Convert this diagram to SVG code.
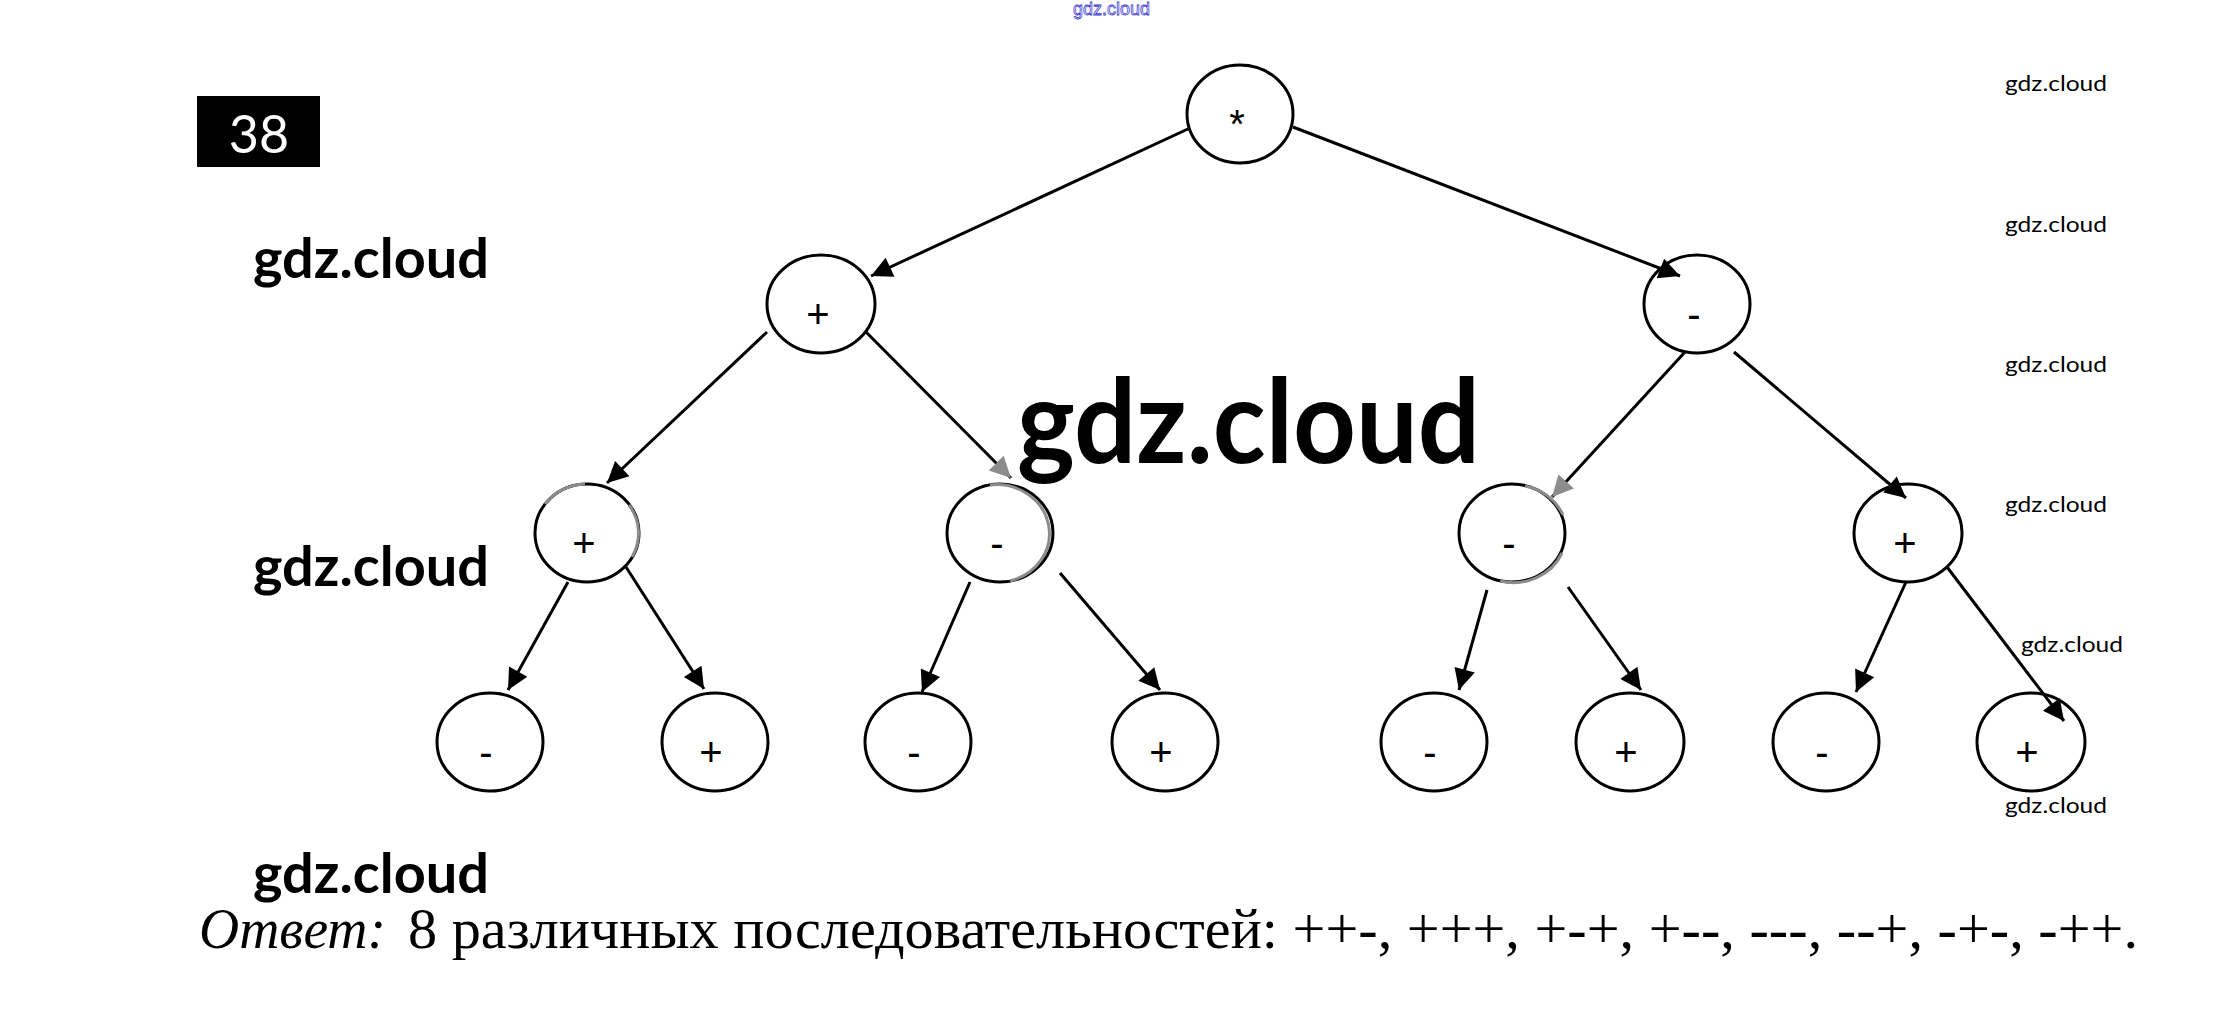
<svg xmlns="http://www.w3.org/2000/svg" width="2222" height="1031" viewBox="0 0 2222 1031">
<style>
.n{fill:#fff;stroke:#000;stroke-width:3}
.lb{font-family:"Liberation Sans",Arial,sans-serif;font-size:40px;fill:#000;text-anchor:middle}
.e{stroke:#000;stroke-width:3;fill:none;marker-end:url(#ah)}
.eg{stroke:#000;stroke-width:3;fill:none;marker-end:url(#ahg)}
.wm{font-family:Lato,"Liberation Sans",sans-serif;fill:#000}
.g{fill:none;stroke:#8c8c8c;stroke-width:3}
</style>
<defs>
<marker id="ah" viewBox="0 0 10 10" refX="10" refY="5" markerUnits="userSpaceOnUse" markerWidth="30" markerHeight="21" orient="auto"><path d="M0,0 L10,5 L0,10 z" fill="#000"/></marker>
<marker id="ahg" viewBox="0 0 10 10" refX="10" refY="5" markerUnits="userSpaceOnUse" markerWidth="30" markerHeight="21" orient="auto"><path d="M0,0 L10,5 L0,10 z" fill="#8c8c8c"/></marker>
</defs>
<rect width="2222" height="1031" fill="#fff"/>

<text x="1073" y="15" font-family="'Liberation Sans',sans-serif" font-size="19" textLength="77" lengthAdjust="spacingAndGlyphs" fill="#fff" stroke="#3b3bd0" stroke-width="0.8">gdz.cloud</text>

<g id="badge">
<rect x="197" y="96" width="123" height="71" fill="#000"/>
<text x="259" y="153" text-anchor="middle" font-family="Lato,'Liberation Sans',sans-serif" font-size="52" fill="#fff">38</text>
</g>

<g id="n-root"><ellipse class="n" cx="1240" cy="114" rx="53" ry="49"/><text class="lb" x="1237" y="138">*</text></g>
<g id="n-L"><ellipse class="n" cx="821" cy="304" rx="54" ry="49"/><text class="lb" x="818" y="328">+</text></g>
<g id="n-R"><ellipse class="n" cx="1697" cy="304" rx="53" ry="49"/><text class="lb" x="1694" y="328">-</text></g>
<g id="n-LL"><ellipse class="n" cx="587" cy="533" rx="52" ry="49"/><path class="g" d="M545,504 A52,49 0 0 1 585,484"/><path class="g" d="M629,505 A52,49 0 0 1 632,557"/><text class="lb" x="584" y="557">+</text></g>
<g id="n-LR"><ellipse class="n" cx="1000" cy="533" rx="53" ry="49"/><path class="g" d="M990,485 A53,49 0 0 1 1010,581"/><text class="lb" x="997" y="557">-</text></g>
<g id="n-RL"><ellipse class="n" cx="1512" cy="533" rx="53" ry="49"/><path class="g" d="M1525,486 A53,49 0 0 1 1563,515"/><path class="g" d="M1562,553 A53,49 0 0 1 1500,581"/><text class="lb" x="1509" y="557">-</text></g>
<g id="n-RR"><ellipse class="n" cx="1908" cy="533" rx="54" ry="49"/><text class="lb" x="1905" y="557">+</text></g>
<g id="n-LLL"><ellipse class="n" cx="490" cy="742" rx="53" ry="49"/><text class="lb" x="486" y="766">-</text></g>
<g id="n-LLR"><ellipse class="n" cx="715" cy="742" rx="53" ry="49"/><text class="lb" x="711" y="766">+</text></g>
<g id="n-LRL"><ellipse class="n" cx="918" cy="742" rx="53" ry="49"/><text class="lb" x="914" y="766">-</text></g>
<g id="n-LRR"><ellipse class="n" cx="1165" cy="742" rx="53" ry="49"/><text class="lb" x="1161" y="766">+</text></g>
<g id="n-RLL"><ellipse class="n" cx="1434" cy="742" rx="53" ry="49"/><text class="lb" x="1430" y="766">-</text></g>
<g id="n-RLR"><ellipse class="n" cx="1630" cy="742" rx="54" ry="49"/><text class="lb" x="1626" y="766">+</text></g>
<g id="n-RRL"><ellipse class="n" cx="1826" cy="742" rx="53" ry="49"/><text class="lb" x="1822" y="766">-</text></g>
<g id="n-RRR"><ellipse class="n" cx="2031" cy="742" rx="54" ry="49"/><text class="lb" x="2027" y="766">+</text></g>

<g id="connectors">
<line class="e" x1="1190" y1="128" x2="871" y2="276"/>
<line class="e" x1="1293" y1="127" x2="1680" y2="276" stroke-width="3.6"/>
<line class="e" x1="767" y1="332" x2="607" y2="483"/>
<line class="eg" x1="866" y1="332" x2="1011" y2="478"/>
<line class="e" x1="568" y1="582" x2="508" y2="690"/>
<line class="e" x1="626" y1="567" x2="704" y2="689"/>
<line class="e" x1="970" y1="582" x2="922" y2="692"/>
<line class="e" x1="1060" y1="573" x2="1160" y2="690"/>
<line class="eg" x1="1685" y1="352" x2="1552" y2="497"/>
<line class="e" x1="1734" y1="352" x2="1906" y2="498" stroke-width="3.4"/>
<line class="e" x1="1487" y1="590" x2="1459" y2="690"/>
<line class="e" x1="1568" y1="587" x2="1641" y2="690"/>
<line class="e" x1="1906" y1="582" x2="1856" y2="692"/>
<line class="e" x1="1947" y1="567" x2="2064" y2="721" stroke-width="3.6"/>
</g>

<g id="watermarks">
<text class="wm" x="1017" y="463" font-size="117" font-weight="bold" textLength="463" lengthAdjust="spacingAndGlyphs">gdz.cloud</text>
<text class="wm" x="253" y="278" font-size="56" font-weight="bold" textLength="236" lengthAdjust="spacingAndGlyphs">gdz.cloud</text>
<text class="wm" x="253" y="586" font-size="56" font-weight="bold" textLength="236" lengthAdjust="spacingAndGlyphs">gdz.cloud</text>
<text class="wm" x="253" y="893" font-size="56" font-weight="bold" textLength="236" lengthAdjust="spacingAndGlyphs">gdz.cloud</text>
<text class="wm" x="2005" y="91" font-size="22" textLength="102" lengthAdjust="spacingAndGlyphs">gdz.cloud</text>
<text class="wm" x="2005" y="232" font-size="22" textLength="102" lengthAdjust="spacingAndGlyphs">gdz.cloud</text>
<text class="wm" x="2005" y="372" font-size="22" textLength="102" lengthAdjust="spacingAndGlyphs">gdz.cloud</text>
<text class="wm" x="2005" y="512" font-size="22" textLength="102" lengthAdjust="spacingAndGlyphs">gdz.cloud</text>
<text class="wm" x="2021" y="652" font-size="22" textLength="102" lengthAdjust="spacingAndGlyphs">gdz.cloud</text>
<text class="wm" x="2005" y="813" font-size="22" textLength="102" lengthAdjust="spacingAndGlyphs">gdz.cloud</text>
</g>

<g id="answer" font-family="'Liberation Serif','Times New Roman',serif" font-size="57" fill="#000">
<text x="199" y="948" font-style="italic" textLength="187" lengthAdjust="spacingAndGlyphs">Ответ:</text>
<text x="408" y="948" textLength="1730" lengthAdjust="spacingAndGlyphs">8 различных последовательностей: ++-, +++, +-+, +--, ---, --+, -+-, -++.</text>
</g>
</svg>
